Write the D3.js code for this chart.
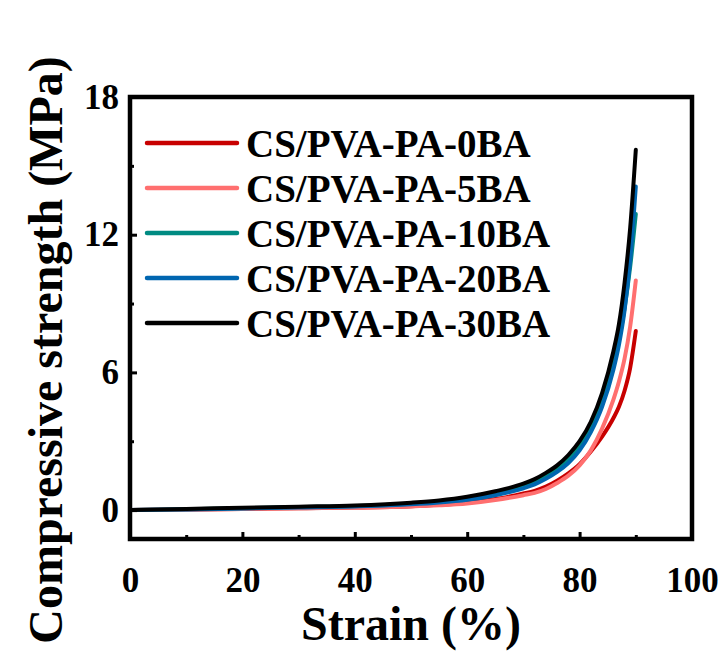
<!DOCTYPE html>
<html>
<head>
<meta charset="utf-8">
<script src="https://cdn.jsdelivr.net/npm/d3@7"></script>
<style>
  body { margin: 0; background: #fff; }
  svg { display: block; font-family: "Liberation Serif", "Times New Roman", serif; font-weight: bold; }
</style>
</head>
<body>
<svg id="chart" width="725" height="654"></svg>
<script>
// Strain (%) sample points shared by all series
const strain = [0, 10, 20, 30, 40, 50, 55, 60, 65, 70, 72, 74, 76, 78, 80, 82, 84, 86, 87, 88, 89, 90];

// Compressive strength (MPa)
const ba0  = [0, 0.02, 0.05, 0.08, 0.11, 0.17, 0.23, 0.32, 0.48, 0.72, 0.84, 1.02, 1.28, 1.6, 2.0, 2.55, 3.2, 4.0, 4.5, 5.2, 6.2, 7.8];
const ba5  = [0, 0.02, 0.05, 0.08, 0.11, 0.16, 0.21, 0.29, 0.44, 0.65, 0.75, 0.92, 1.18, 1.5, 1.95, 2.6, 3.55, 4.8, 5.6, 6.6, 8.0, 10.0];
const ba10 = [0, 0.04, 0.08, 0.13, 0.18, 0.28, 0.37, 0.5, 0.72, 1.03, 1.22, 1.47, 1.78, 2.2, 2.78, 3.6, 4.75, 6.35, 7.4, 8.8, 10.6, 12.9];
const ba20 = [0, 0.03, 0.07, 0.11, 0.16, 0.25, 0.33, 0.45, 0.65, 0.95, 1.12, 1.36, 1.66, 2.05, 2.6, 3.4, 4.5, 6.1, 7.2, 8.7, 10.9, 14.1];
const ba30 = [0, 0.05, 0.1, 0.15, 0.2, 0.32, 0.42, 0.58, 0.82, 1.15, 1.35, 1.62, 1.95, 2.4, 3.0, 3.85, 5.1, 6.9, 8.1, 9.9, 12.3, 15.7];

const seriesNames = ["CS/PVA-PA-0BA", "CS/PVA-PA-5BA", "CS/PVA-PA-10BA", "CS/PVA-PA-20BA", "CS/PVA-PA-30BA"];
const seriesValues = [ba0, ba5, ba10, ba20, ba30];
const seriesColors = ["#c80000", "#ff6f6f", "#008b82", "#0066b0", "#000000"];

const xTicks = [0, 20, 40, 60, 80, 100];
const xMinor = [10, 30, 50, 70, 90];
const yTicks = [0, 6, 12, 18];
const yMinor = [3, 9, 15];

const svg = d3.select("#chart");

// plot frame
const plotL = 130, plotR = 692, plotT = 97, plotB = 539;

const x = d3.scaleLinear().domain([0, 100]).range([plotL, plotR]);
const y = d3.scaleLinear().domain([-1.26, 18]).range([plotB, plotT]);

// curves (drawn in legend order, black on top)
const line = d3.line()
    .x(d => x(d[0]))
    .y(d => y(d[1]))
    .curve(d3.curveMonotoneX);

svg.append("g")
    .selectAll("path")
    .data(seriesValues.map((vals, i) => ({ i, pts: strain.map((s, k) => [s, vals[k]]) })))
    .join("path")
    .attr("fill", "none")
    .attr("stroke", d => seriesColors[d.i])
    .attr("stroke-width", 4)
    .attr("stroke-linecap", "round")
    .attr("stroke-linejoin", "round")
    .attr("d", d => line(d.pts));

// x axis (ticks point inward)
const xAxis = svg.append("g")
    .attr("transform", `translate(0,${plotB})`)
    .call(d3.axisBottom(x).tickValues(xTicks).tickSizeInner(-7).tickSizeOuter(0).tickPadding(28))
    .attr("font-family", null)
    .attr("font-size", 35);
xAxis.select(".domain").remove();
xAxis.selectAll(".tick line").attr("stroke-width", 3);
xAxis.selectAll("text").attr("fill", "#000");

svg.append("g")
    .attr("transform", `translate(0,${plotB})`)
    .call(d3.axisBottom(x).tickValues(xMinor).tickSizeInner(-4).tickSizeOuter(0).tickFormat(""))
    .call(g => g.select(".domain").remove())
    .selectAll(".tick line").attr("stroke-width", 3);

// y axis
const yAxis = svg.append("g")
    .attr("transform", `translate(${plotL},0)`)
    .call(d3.axisLeft(y).tickValues(yTicks).tickSizeInner(-7).tickSizeOuter(0).tickPadding(11))
    .attr("font-family", null)
    .attr("font-size", 35);
yAxis.select(".domain").remove();
yAxis.selectAll(".tick line").attr("stroke-width", 3);
yAxis.selectAll("text").attr("fill", "#000");

svg.append("g")
    .attr("transform", `translate(${plotL},0)`)
    .call(d3.axisLeft(y).tickValues(yMinor).tickSizeInner(-4).tickSizeOuter(0).tickFormat(""))
    .call(g => g.select(".domain").remove())
    .selectAll(".tick line").attr("stroke-width", 3);

// frame
svg.append("rect")
    .attr("x", plotL)
    .attr("y", plotT)
    .attr("width", plotR - plotL)
    .attr("height", plotB - plotT)
    .attr("fill", "none")
    .attr("stroke", "#000")
    .attr("stroke-width", 4.5);

// axis titles
svg.append("text")
    .attr("x", (plotL + plotR) / 2)
    .attr("y", 640)
    .attr("text-anchor", "middle")
    .attr("font-size", 48)
    .text("Strain (%)");

svg.append("text")
    .attr("transform", "translate(62,350) rotate(-90)")
    .attr("text-anchor", "middle")
    .attr("font-size", 48)
    .text("Compressive strength (MPa)");

// legend
const legend = svg.append("g");
const rowY = i => 143 + i * 45;

legend.selectAll("line")
    .data(seriesNames)
    .join("line")
    .attr("x1", 147)
    .attr("x2", 237)
    .attr("y1", (d, i) => rowY(i))
    .attr("y2", (d, i) => rowY(i))
    .attr("stroke", (d, i) => seriesColors[i])
    .attr("stroke-width", 4.5)
    .attr("stroke-linecap", "round");

legend.selectAll("text")
    .data(seriesNames)
    .join("text")
    .attr("x", 246)
    .attr("y", (d, i) => rowY(i))
    .attr("dy", "0.35em")
    .attr("font-size", 39)
    .text(d => d);
</script>
</body>
</html>
